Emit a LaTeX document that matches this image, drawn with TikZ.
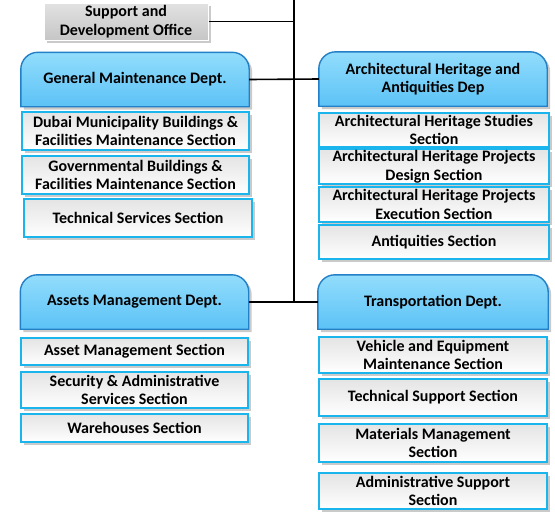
\documentclass[tikz,border=0pt]{standalone}
\usepackage{fontspec}
\setmainfont{Carlito}
\usetikzlibrary{backgrounds, shadows}
\definecolor{depttop}{HTML}{92DDFC}
\definecolor{deptbot}{HTML}{5CC2F6}
\definecolor{deptline}{HTML}{2380C6}
\definecolor{sectline}{HTML}{1BB5EE}
\definecolor{secttop}{HTML}{E4E4E4}
\definecolor{supptop}{HTML}{E2E2E2}
\definecolor{suppbot}{HTML}{C6C6C6}

\begin{document}
\begin{tikzpicture}[x=1pt, y=-1pt,
        txt/.style={font=\fontsize{16}{18.5}\selectfont\bfseries, align=center, inner sep=1pt},
        dept/.style={txt, minimum width=228pt, minimum height=54pt},
        sect/.style={txt, draw=sectline, line width=1.4pt, top color=secttop, bottom color=white,
          minimum width=228pt, minimum height=36pt,
          drop shadow={shadow xshift=3pt, shadow yshift=-3pt, fill=black!35, opacity=.6}},
        link/.style={line width=1.6pt, black}]
        \useasboundingbox (0,0) rectangle (555,517);
        \node[txt, draw=white, line width=1pt, top color=supptop, bottom color=suppbot,
          minimum width=164pt, minimum height=37pt,
          drop shadow={shadow xshift=3pt, shadow yshift=-3pt, fill=black!35, opacity=.6}]
          (SDO) at (126, 21.5) {Support and\\Development Office};
        \node[dept] (GMD) at (135, 79.5) {General Maintenance Dept.};
        \node[dept] (AHD) at (433, 79) {Architectural Heritage and\\Antiquities Dep};
        \node[dept] (AMD) at (134.5, 302) {Assets Management Dept.};
        \node[dept, minimum width=230pt] (TRD) at (433, 302) {Transportation Dept.};
        \begin{pgfonlayer}{background}
          \foreach \d in {GMD, AHD, AMD, TRD}
            \path[draw=deptline, line width=1.4pt, top color=depttop, bottom color=deptbot,
              drop shadow={shadow xshift=3pt, shadow yshift=-3pt, fill=black!35, opacity=.6}]
              (\d.south west) -- ([yshift=-17pt]\d.north west)
              arc[start angle=180, end angle=90, radius=17pt]
              -- ([xshift=-17pt]\d.north east)
              arc[start angle=90, end angle=0, radius=17pt]
              -- (\d.south east) -- cycle;
        \end{pgfonlayer}
        \node[sect, minimum width=227pt, minimum height=38pt] (DMB) at (135.5, 131) {Dubai Municipality Buildings \&\\Facilities Maintenance Section};
        \node[sect, minimum width=227pt, minimum height=38pt] (GBF) at (135.5, 175) {Governmental Buildings \&\\Facilities Maintenance Section};
        \node[sect, minimum height=38pt] (TSS) at (138, 218) {Technical Services Section};
        \node[sect, minimum width=230pt, minimum height=34pt] (AHS) at (434, 130) {Architectural Heritage Studies\\Section};
        \node[sect, minimum width=230pt, minimum height=35pt] (AHP) at (434, 166.5) {Architectural Heritage Projects\\Design Section};
        \node[sect, minimum width=230pt, minimum height=35pt] (AHE) at (434, 204.5) {Architectural Heritage Projects\\Execution Section};
        \node[sect, minimum width=230pt, minimum height=34pt] (ANS) at (434, 242) {Antiquities Section};
        \node[sect, minimum width=227pt, minimum height=27pt] (AMS) at (134.5, 351.5) {Asset Management Section};
        \node[sect, minimum width=227pt] (SAS) at (134.5, 390) {Security \& Administrative\\Services Section};
        \node[sect, minimum width=227pt, minimum height=28pt] (WHS) at (134.5, 428) {Warehouses Section};
        \node[sect] (VEM) at (433, 355) {Vehicle and Equipment\\Maintenance Section};
        \node[sect, minimum height=37pt] (TSP) at (433, 397.5) {Technical Support Section};
        \node[sect, minimum height=38pt] (MMS) at (433, 443) {Materials Management\\Section};
        \node[sect] (ADS) at (433, 491) {Administrative Support\\Section};
        \coordinate (top) at (294, 0);
        \coordinate (bot) at (294, 302);
        \draw[link] (top) -- (bot);
        \draw[link] (SDO.east) -- (SDO.east -| top);
        \draw[link] (GMD.east) -- (AHD.west);
        \draw[link] (AMD.east) -- (TRD.west);
\end{tikzpicture}
\end{document}
